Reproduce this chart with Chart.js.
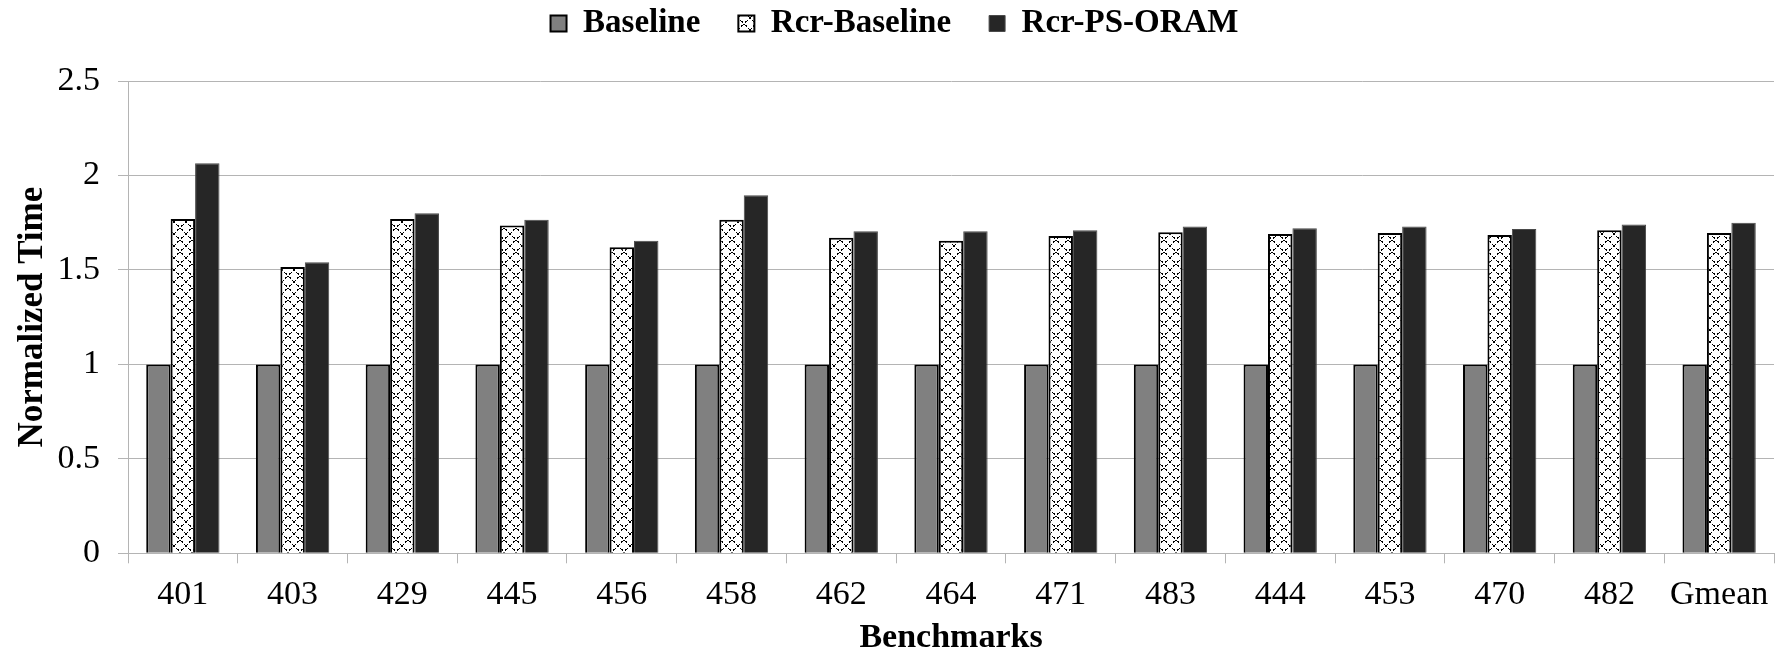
<!DOCTYPE html>
<html>
<head>
<meta charset="utf-8">
<script src="https://cdn.jsdelivr.net/npm/chart.js@4/dist/chart.umd.min.js"></script>
<style>
  html, body { margin: 0; padding: 0; background: #ffffff; }
  #wrap { width: 1789px; height: 654px; position: relative; }
</style>
</head>
<body>
<div id="wrap"><canvas id="c"></canvas></div>
<script>
const categories = ['401','403','429','445','456','458','462','464','471','483','444','453','470','482','Gmean'];
const baseline    = [1, 1, 1, 1, 1, 1, 1, 1, 1, 1, 1, 1, 1, 1, 1];
const rcrBaseline = [1.77, 1.515, 1.77, 1.735, 1.62, 1.765, 1.67, 1.655, 1.68, 1.70, 1.69, 1.695, 1.685, 1.71, 1.695];
const rcrPsOram   = [2.065, 1.54, 1.80, 1.765, 1.655, 1.895, 1.705, 1.705, 1.71, 1.73, 1.72, 1.73, 1.717, 1.74, 1.75];
const yTicks = [0, 0.5, 1, 1.5, 2, 2.5];
const seriesNames = ['Baseline', 'Rcr-Baseline', 'Rcr-PS-ORAM'];

function makeHatch() {
  const w = 12, h = 12;
  const c = document.createElement('canvas');
  c.width = w; c.height = h;
  const g = c.getContext('2d');
  g.fillStyle = '#ffffff';
  g.fillRect(0, 0, w, h);
  g.fillStyle = '#000000';
  for (let t = 0; t < w; t++) {
    const y = t;
    if (t % 4 === 3) continue;
    g.fillRect(t, y, 1, 1);
    g.fillRect(w - 1 - t, y, 1, 1);
    if (t % 4 === 1) {
      g.fillRect(t + 1 < w ? t + 1 : 0, y, 1, 1);
      g.fillRect(w - 2 - t >= 0 ? w - 2 - t : w - 1, y, 1, 1);
    }
  }
  return g.createPattern(c, 'repeat');
}

const FONT = "'Liberation Serif', 'Times New Roman', serif";
Chart.defaults.font.family = FONT;
Chart.defaults.color = '#000000';

const gridColor = '#b4b4b4';

const legendShift = {
  id: 'legendShift',
  afterLayout(chart) {
    if (chart.legend) {
      chart.legend.top -= 31;
      chart.legend.bottom -= 31;
    }
  }
};

new Chart(document.getElementById('c'), {
  type: 'bar',
  data: {
    labels: categories,
    datasets: [
      { label: seriesNames[0], data: baseline, backgroundColor: '#808080', borderColor: '#000000', borderWidth: 2 },
      { label: seriesNames[1], data: rcrBaseline, backgroundColor: makeHatch(), borderColor: '#000000', borderWidth: 2 },
      { label: seriesNames[2], data: rcrPsOram, backgroundColor: '#262626', borderColor: '#4a4a4a', borderWidth: 1 }
    ]
  },
  plugins: [legendShift],
  options: {
    responsive: true,
    maintainAspectRatio: false,
    animation: false,
    devicePixelRatio: 1,
    layout: { padding: { top: 0, left: 0, right: 0, bottom: 0 } },
    datasets: { bar: { categoryPercentage: 0.668, barPercentage: 1.0 } },
    plugins: {
      tooltip: { enabled: false },
      legend: {
        position: 'top',
        align: 'center',
        labels: {
          boxWidth: 16,
          boxHeight: 16,
          padding: 38,
          color: '#000000',
          font: { family: FONT, size: 33, weight: 'bold' }
        }
      }
    },
    scales: {
      x: {
        grid: { display: true, drawOnChartArea: false, drawTicks: true, tickLength: 10, color: gridColor, offset: true },
        border: { display: true, color: gridColor, width: 1 },
        ticks: { color: '#000000', font: { family: FONT, size: 34 }, padding: 11, maxRotation: 0, autoSkip: false },
        title: { display: true, text: 'Benchmarks', color: '#000000', font: { family: FONT, size: 34, weight: 'bold', lineHeight: 0.93 }, padding: { top: 0, bottom: 0 } },
        afterFit: function (scale) { scale.height = 100.7; scale.paddingRight = 15; }
      },
      y: {
        min: 0,
        max: 2.5,
        afterBuildTicks: function (scale) { scale.ticks = yTicks.map(v => ({ value: v })); },
        grid: { display: true, drawTicks: true, tickLength: 10, color: gridColor, lineWidth: 1 },
        border: { display: true, color: gridColor, width: 1 },
        ticks: { color: '#000000', font: { family: FONT, size: 34 }, padding: 18, callback: function (v) { return String(v); } },
        title: { display: true, text: 'Normalized Time', color: '#000000', font: { family: FONT, size: 35, weight: 'bold', lineHeight: 1.2 }, padding: { top: 11.5, bottom: 0 } },
        afterFit: function (scale) { scale.width = 128; scale.paddingTop = 80; }
      }
    }
  }
});
</script>
</body>
</html>
